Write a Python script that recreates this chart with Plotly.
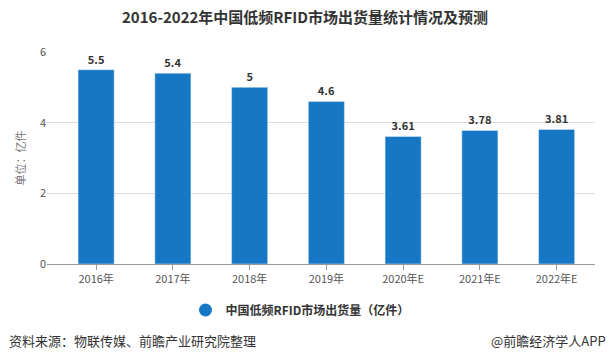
import plotly.graph_objects as go

categories = ["2016年", "2017年", "2018年", "2019年", "2020年E", "2021年E", "2022年E"]
values = [5.5, 5.4, 5, 4.6, 3.61, 3.78, 3.81]
value_labels = ["5.5", "5.4", "5", "4.6", "3.61", "3.78", "3.81"]
series_name = "中国低频RFID市场出货量（亿件）"
y_ticks = [0, 2, 4, 6]

font = "Noto Sans CJK SC"
color = "#1677C4"
fig = go.Figure()
fig.add_trace(go.Bar(
    x=list(range(len(categories))), y=values, name=series_name,
    marker=dict(color=color), showlegend=False,
    text=value_labels, textposition="outside",
    textfont=dict(family=font, size=11, color="#333333", weight="bold"),
    cliponaxis=False, width=0.47,
))
fig.add_trace(go.Scatter(
    x=[None], y=[None], mode="markers", name=series_name,
    marker=dict(color=color, symbol="circle", size=13), showlegend=True,
))
fig.update_layout(
    width=610, height=363,
    margin=dict(l=47, r=15, t=52, b=99, autoexpand=False),
    paper_bgcolor="white", plot_bgcolor="white",
    font=dict(family=font, size=11, color="#555555"),
    title=dict(text="<b>2016-2022年中国低频RFID市场出货量统计情况及预测</b>",
               x=0.5, xanchor="center", y=1 - 18/363, yanchor="middle",
               font=dict(size=15, color="#333333", family=font)),
    showlegend=True,
    legend=dict(orientation="h", x=0.5 - 21/548, xanchor="center", y=-46/212, yanchor="middle",
                font=dict(size=12, color="#333333", family=font, weight="bold"),
                itemwidth=30),
    xaxis=dict(tickmode="array", tickvals=list(range(len(categories))), ticktext=categories,
               range=[-0.64, 6.5], showgrid=False, showline=True, linecolor="#999999",
               ticks="outside", ticklen=5, tickcolor="#999999",
               tickfont=dict(size=11, color="#555555"), automargin=False),
    yaxis=dict(range=[0, 6], tickvals=y_ticks, showgrid=True, gridcolor="#DDDDDD",
               zeroline=False, ticks="", tickfont=dict(size=11, color="#555555"),
               automargin=False,
               title=dict(text="单位：亿件", font=dict(size=11, color="#777777"), standoff=12)),
    bargap=0.53,
)
fig.add_annotation(text="资料来源：物联传媒、前瞻产业研究院整理", xref="paper", yref="paper",
                   x=-40/548, xanchor="left", y=-76/212, yanchor="middle", showarrow=False,
                   font=dict(size=13, color="#333333", family=font))
fig.add_annotation(text="@前瞻经济学人APP", xref="paper", yref="paper",
                   x=1+13/548, xanchor="right", y=-76/212, yanchor="middle", showarrow=False,
                   font=dict(size=13, color="#333333", family=font))
fig.write_html("out.html", config={"displayModeBar": False},
               post_script="document.body.style.margin='0';")
